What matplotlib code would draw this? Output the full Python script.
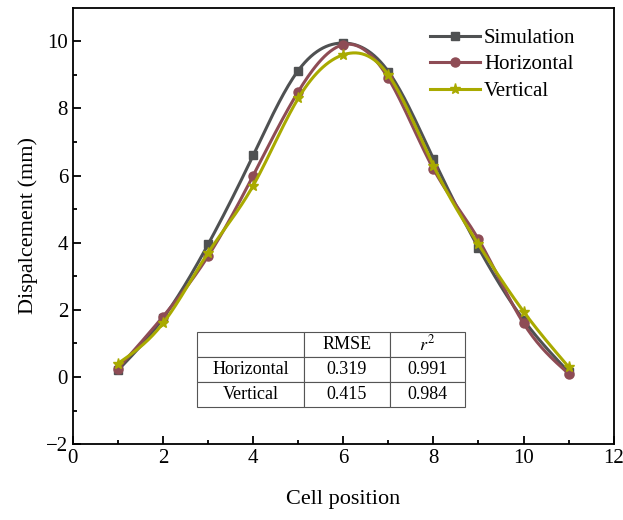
import numpy as np
import matplotlib.pyplot as plt

# cell positions and displacement (mm)
cells = [1, 2, 3, 4, 5, 6, 7, 8, 9, 10, 11]
simulation = [0.2, 1.75, 3.95, 6.6, 9.13, 9.95, 9.1, 6.5, 3.85, 1.7, 0.15]
horizontal = [0.25, 1.8, 3.6, 6.0, 8.5, 9.9, 8.9, 6.2, 4.1, 1.6, 0.1]
vertical = [0.4, 1.6, 3.7, 5.7, 8.3, 9.6, 9.0, 6.3, 3.95, 1.95, 0.3]

table_rows = ['Horizontal', 'Vertical']
table_cols = ['', 'RMSE', '$r^2$']
rmse = ['0.319', '0.415']
r2 = ['0.991', '0.984']

plt.rcParams['font.family'] = ['Liberation Serif', 'DejaVu Serif']
plt.rcParams['mathtext.fontset'] = 'stix'


def natural_spline(x, y, n=300):
    x = np.asarray(x, float)
    y = np.asarray(y, float)
    k = len(x)
    h = np.diff(x)
    A = np.zeros((k, k))
    b = np.zeros(k)
    A[0, 0] = A[-1, -1] = 1
    for i in range(1, k - 1):
        A[i, i - 1] = h[i - 1]
        A[i, i] = 2 * (h[i - 1] + h[i])
        A[i, i + 1] = h[i]
        b[i] = 6 * ((y[i + 1] - y[i]) / h[i] - (y[i] - y[i - 1]) / h[i - 1])
    m = np.linalg.solve(A, b)
    xs = np.linspace(x[0], x[-1], n)
    idx = np.clip(np.searchsorted(x, xs) - 1, 0, k - 2)
    x0, x1 = x[idx], x[idx + 1]
    hh = x1 - x0
    t0, t1 = x1 - xs, xs - x0
    ys = (m[idx] * t0**3 + m[idx + 1] * t1**3) / (6 * hh) \
        + (y[idx] / hh - m[idx] * hh / 6) * t0 \
        + (y[idx + 1] / hh - m[idx + 1] * hh / 6) * t1
    return xs, ys


fig = plt.figure(figsize=(6.23, 5.2), dpi=100)
ax = fig.add_axes([0.117, 0.146, 0.868, 0.839])

series = [
    ('Simulation', simulation, '#4f5152', 's', 6),
    ('Horizontal', horizontal, '#8e4c55', 'o', 6.5),
    ('Vertical', vertical, '#a9aa00', '*', 8),
]
for name, vals, col, mk, ms in series:
    xs, ys = natural_spline(cells, vals)
    ax.plot(xs, ys, color=col, lw=2.2)
    ax.plot(cells, vals, ls='none', marker=mk, ms=ms, color=col)
    ax.plot([], [], color=col, lw=2.2, marker=mk, ms=ms, label=name)

ax.set_xlim(0, 12)
ax.set_ylim(-2, 11)
ax.set_xticks([0, 2, 4, 6, 8, 10, 12])
ax.set_yticks([-2, 0, 2, 4, 6, 8, 10])
ax.set_xticks(np.arange(1, 12, 2), minor=True)
ax.set_yticks(np.arange(-1, 11, 2), minor=True)
ax.tick_params(which='both', direction='in', labelsize=15, width=1.3)
ax.tick_params(which='major', length=6)
ax.tick_params(which='minor', length=3)
ax.set_yticklabels(['\u22122', '0', '2', '4', '6', '8', '10'])
for s in ax.spines.values():
    s.set_linewidth(1.3)

ax.set_xlabel('Cell position', fontsize=16, labelpad=16)
ax.set_ylabel('Dispalcement (mm)', fontsize=16, labelpad=6)

ax.legend(loc='upper right', bbox_to_anchor=(0.945, 0.972), frameon=False,
          fontsize=15, handlelength=2.4, handletextpad=0.2,
          labelspacing=0.33, borderaxespad=0)

cell_text = [table_cols] + [[table_rows[i], rmse[i], r2[i]] for i in range(2)]
tbl = ax.table(cellText=cell_text, cellLoc='center',
               bbox=[0.229, 0.084, 0.496, 0.172],
               colWidths=[0.40, 0.32, 0.28])
tbl.auto_set_font_size(False)
tbl.set_fontsize(13)
for cell in tbl.get_celld().values():
    cell.set_edgecolor('#555555')
    cell.set_linewidth(0.8)

fig.savefig('out.png', dpi=100)
